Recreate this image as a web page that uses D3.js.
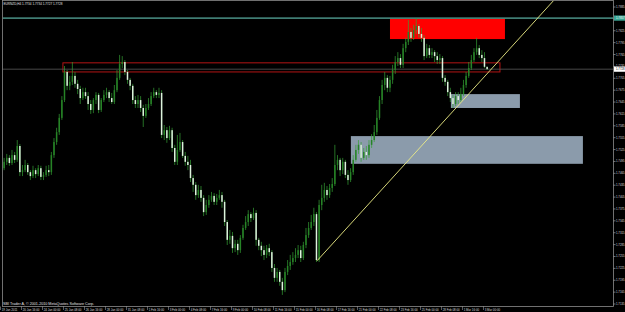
<!DOCTYPE html>
<html><head><meta charset="utf-8">
<script src="https://cdn.jsdelivr.net/npm/d3@7/dist/d3.min.js"></script>
<style>html,body{margin:0;padding:0;background:#000;overflow:hidden}svg{display:block}</style>
</head><body><svg id="c" width="625" height="312"></svg>
<script>
// ---------- data ----------
const title = "EURNZD,H4 1.7734 1.7734 1.7727 1.7728";
const copyright = "SBI Trader A, \u00a9 2001-2010 MetaQuotes Software Corp.";

const open = [1.7468,1.7478,1.7494,1.7504,1.7491,1.7511,1.7499,1.7534,1.7468,1.7473,
1.7486,1.7468,1.7458,1.7473,1.7463,1.7478,1.7456,1.7461,1.7473,1.7468,
1.7511,1.7544,1.7569,1.7605,1.7650,1.7721,1.7686,1.7696,1.7711,1.7691,
1.7678,1.7655,1.7670,1.7660,1.7640,1.7625,1.7650,1.7663,1.7625,1.7650,
1.7663,1.7670,1.7655,1.7645,1.7675,1.7706,1.7741,1.7746,1.7721,1.7701,
1.7686,1.7650,1.7640,1.7650,1.7630,1.7610,1.7630,1.7640,1.7660,1.7670,
1.7663,1.7668,1.7562,1.7574,1.7554,1.7574,1.7529,1.7494,1.7524,1.7544,
1.7509,1.7494,1.7486,1.7453,1.7436,1.7410,1.7423,1.7403,1.7367,1.7385,
1.7398,1.7408,1.7393,1.7403,1.7410,1.7393,1.7342,1.7297,1.7307,1.7276,
1.7287,1.7271,1.7302,1.7327,1.7342,1.7362,1.7352,1.7365,1.7297,1.7282,
1.7271,1.7259,1.7276,1.7266,1.7226,1.7201,1.7216,1.7191,1.7170,1.7216,
1.7231,1.7241,1.7251,1.7259,1.7271,1.7251,1.7284,1.7309,1.7327,1.7342,
1.7362,1.7246,1.7385,1.7403,1.7423,1.7410,1.7428,1.7438,1.7486,1.7499,
1.7473,1.7494,1.7461,1.7448,1.7468,1.7499,1.7524,1.7537,1.7504,1.7519,
1.7511,1.7537,1.7549,1.7569,1.7605,1.7650,1.7688,1.7706,1.7681,1.7701,
1.7726,1.7746,1.7756,1.7739,1.7781,1.7797,1.7822,1.7807,1.7827,1.7837,
1.7817,1.7807,1.7761,1.7781,1.7764,1.7771,1.7761,1.7751,1.7756,1.7706,
1.7696,1.7670,1.7655,1.7640,1.7660,1.7650,1.7665,1.7688,1.7711,1.7731,
1.7751,1.7771,1.7781,1.7764,1.7756,1.7734];

const high = [1.7489,1.7504,1.7514,1.7511,1.7524,1.7519,1.7549,1.7539,1.7486,1.7499,
1.7491,1.7473,1.7484,1.7478,1.7486,1.7484,1.7468,1.7484,1.7486,1.7519,
1.7554,1.7580,1.7615,1.7660,1.7736,1.7726,1.7711,1.7746,1.7721,1.7701,
1.7686,1.7681,1.7681,1.7670,1.7650,1.7655,1.7670,1.7668,1.7655,1.7675,
1.7681,1.7675,1.7668,1.7688,1.7726,1.7764,1.7761,1.7751,1.7726,1.7706,
1.7691,1.7660,1.7663,1.7660,1.7638,1.7640,1.7655,1.7670,1.7681,1.7675,
1.7681,1.7675,1.7587,1.7582,1.7585,1.7580,1.7537,1.7562,1.7567,1.7549,
1.7519,1.7509,1.7499,1.7461,1.7443,1.7436,1.7433,1.7410,1.7398,1.7410,
1.7418,1.7415,1.7413,1.7423,1.7418,1.7398,1.7347,1.7322,1.7317,1.7297,
1.7297,1.7309,1.7335,1.7357,1.7372,1.7367,1.7378,1.7372,1.7302,1.7292,
1.7282,1.7284,1.7287,1.7271,1.7236,1.7226,1.7221,1.7201,1.7226,1.7246,
1.7259,1.7266,1.7276,1.7284,1.7282,1.7292,1.7327,1.7342,1.7360,1.7378,
1.7367,1.7398,1.7436,1.7441,1.7433,1.7438,1.7453,1.7537,1.7511,1.7504,
1.7504,1.7499,1.7473,1.7478,1.7511,1.7537,1.7549,1.7544,1.7529,1.7534,
1.7549,1.7564,1.7587,1.7625,1.7660,1.7701,1.7721,1.7713,1.7711,1.7739,
1.7761,1.7771,1.7766,1.7792,1.7807,1.7852,1.7832,1.7840,1.7857,1.7842,
1.7832,1.7814,1.7792,1.7789,1.7781,1.7776,1.7771,1.7766,1.7761,1.7713,
1.7701,1.7681,1.7663,1.7670,1.7670,1.7681,1.7701,1.7721,1.7746,1.7764,
1.7781,1.7807,1.7789,1.7776,1.7771,1.7734];

const low = [1.7461,1.7473,1.7486,1.7484,1.7486,1.7491,1.7494,1.7458,1.7458,1.7468,
1.7461,1.7448,1.7453,1.7453,1.7458,1.7448,1.7448,1.7456,1.7458,1.7461,
1.7504,1.7537,1.7562,1.7600,1.7645,1.7675,1.7675,1.7688,1.7681,1.7665,
1.7640,1.7650,1.7653,1.7625,1.7615,1.7617,1.7640,1.7617,1.7620,1.7645,
1.7655,1.7645,1.7640,1.7640,1.7670,1.7701,1.7731,1.7713,1.7691,1.7675,
1.7640,1.7630,1.7630,1.7620,1.7582,1.7605,1.7625,1.7635,1.7655,1.7655,
1.7655,1.7554,1.7549,1.7542,1.7549,1.7519,1.7486,1.7486,1.7519,1.7504,
1.7484,1.7473,1.7443,1.7418,1.7398,1.7403,1.7393,1.7357,1.7360,1.7378,
1.7393,1.7385,1.7385,1.7398,1.7378,1.7332,1.7284,1.7287,1.7264,1.7266,
1.7259,1.7264,1.7297,1.7322,1.7332,1.7342,1.7347,1.7282,1.7271,1.7256,
1.7246,1.7251,1.7256,1.7216,1.7191,1.7191,1.7181,1.7158,1.7165,1.7208,
1.7221,1.7234,1.7241,1.7251,1.7241,1.7246,1.7276,1.7302,1.7322,1.7332,
1.7241,1.7241,1.7372,1.7393,1.7398,1.7403,1.7418,1.7433,1.7473,1.7458,
1.7463,1.7453,1.7436,1.7443,1.7461,1.7494,1.7514,1.7494,1.7499,1.7499,
1.7504,1.7529,1.7544,1.7562,1.7600,1.7640,1.7675,1.7670,1.7670,1.7691,
1.7716,1.7736,1.7731,1.7731,1.7771,1.7789,1.7797,1.7802,1.7817,1.7807,
1.7797,1.7751,1.7756,1.7756,1.7756,1.7746,1.7741,1.7741,1.7696,1.7686,
1.7660,1.7645,1.7630,1.7635,1.7640,1.7645,1.7660,1.7681,1.7706,1.7726,
1.7746,1.7764,1.7756,1.7746,1.7731,1.7727];

const close = [1.7478,1.7494,1.7504,1.7491,1.7511,1.7499,1.7534,1.7468,1.7473,1.7486,
1.7468,1.7458,1.7473,1.7463,1.7478,1.7456,1.7461,1.7473,1.7468,1.7511,
1.7544,1.7569,1.7605,1.7650,1.7721,1.7686,1.7696,1.7711,1.7691,1.7678,
1.7655,1.7670,1.7660,1.7640,1.7625,1.7650,1.7663,1.7625,1.7650,1.7663,
1.7670,1.7655,1.7645,1.7675,1.7706,1.7741,1.7746,1.7721,1.7701,1.7686,
1.7650,1.7640,1.7650,1.7630,1.7610,1.7630,1.7640,1.7660,1.7670,1.7663,
1.7668,1.7562,1.7574,1.7554,1.7574,1.7529,1.7494,1.7524,1.7544,1.7509,
1.7494,1.7486,1.7453,1.7436,1.7410,1.7423,1.7403,1.7367,1.7385,1.7398,
1.7408,1.7393,1.7403,1.7410,1.7393,1.7342,1.7297,1.7307,1.7276,1.7287,
1.7271,1.7302,1.7327,1.7342,1.7362,1.7352,1.7365,1.7297,1.7282,1.7271,
1.7259,1.7276,1.7266,1.7226,1.7201,1.7216,1.7191,1.7170,1.7216,1.7231,
1.7241,1.7251,1.7259,1.7271,1.7251,1.7284,1.7309,1.7327,1.7342,1.7362,
1.7246,1.7385,1.7403,1.7423,1.7410,1.7428,1.7438,1.7486,1.7499,1.7473,
1.7494,1.7461,1.7448,1.7468,1.7499,1.7524,1.7537,1.7504,1.7519,1.7511,
1.7537,1.7549,1.7569,1.7605,1.7650,1.7688,1.7706,1.7681,1.7701,1.7726,
1.7746,1.7756,1.7739,1.7781,1.7797,1.7822,1.7807,1.7827,1.7837,1.7817,
1.7807,1.7761,1.7781,1.7764,1.7771,1.7761,1.7751,1.7756,1.7706,1.7696,
1.7670,1.7655,1.7640,1.7660,1.7650,1.7665,1.7688,1.7711,1.7731,1.7751,
1.7771,1.7781,1.7764,1.7756,1.7734,1.7728];

const priceTicks = [1.7885,1.7855,1.7825,1.7795,1.7765,1.7735,1.7705,1.7675,1.7645,1.7615,
1.7585,1.7555,1.7525,1.7495,1.7465,1.7435,1.7405,1.7375,1.7345,1.7315,
1.7285,1.7255,1.7225,1.7195,1.7165,1.7135];

const timeLabels = ["19 Jan 2011","20 Jan 16:00","24 Jan 00:00","25 Jan 08:00","26 Jan 16:00","28 Jan 00:00",
"31 Jan 08:00","1 Feb 16:00","3 Feb 00:00","4 Feb 08:00","7 Feb 16:00","9 Feb 00:00","10 Feb 08:00",
"11 Feb 16:00","15 Feb 00:00","16 Feb 08:00","17 Feb 16:00","21 Feb 00:00","22 Feb 08:00","23 Feb 16:00",
"25 Feb 00:00","28 Feb 08:00","1 Mar 16:00","3 Mar 00:00"];
const timeLabelBars = [0,8,16,24,32,40,48,56,64,72,80,88,96,104,112,120,128,136,144,152,160,168,176,184];

// chart objects anchored in bar index / price
const resistanceLevel = 1.7857;
const bidPrice = 1.7728;
const redZone = [148.0, 191.8, 1.7855, 1.7804];
const outlineZone = [23.4, 189.9, 1.7744, 1.7721];
const grayZoneSmall = [171.2, 197.5, 1.7665, 1.7630];
const grayZoneLarge = [133.1, 221.5, 1.7559, 1.7489];
const trendStart = [120.2, 1.7244];
const trendEnd = [207.0, 1.7877];

// ---------- drawing ----------
const W = 625, H = 312;
const plotL = 2.5, plotR = 613.5, plotT = 0.5, plotB = 306.5;
const svg = d3.select("#c");
svg.append("rect").attr("width", W).attr("height", H).attr("fill", "#000");

const x = d3.scaleLinear().domain([0, open.length - 1]).range([1.5, 487.1]);
const y = d3.scaleLinear().domain([1.7135, 1.7885]).range([304, 7]);

svg.append("clipPath").attr("id", "plot").append("rect")
  .attr("x", plotL).attr("y", plotT).attr("width", plotR - plotL).attr("height", plotB - plotT);
const g = svg.append("g").attr("clip-path", "url(#plot)");

function zone(z, fill) {
  g.append("rect")
    .attr("x", x(z[0])).attr("width", x(z[1]) - x(z[0]))
    .attr("y", y(z[2])).attr("height", y(z[3]) - y(z[2]))
    .attr("fill", fill);
}
zone(redZone, "#ff0000");
zone(grayZoneSmall, "#8b9bab");
zone(grayZoneLarge, "#8b9bab");

g.append("rect")
  .attr("x", x(outlineZone[0])).attr("width", x(outlineZone[1]) - x(outlineZone[0]))
  .attr("y", y(outlineZone[2])).attr("height", y(outlineZone[3]) - y(outlineZone[2]))
  .attr("fill", "none").attr("stroke", "#b31414").attr("stroke-width", 1);

g.append("line").attr("x1", plotL).attr("x2", plotR)
  .attr("y1", y(bidPrice)).attr("y2", y(bidPrice))
  .attr("stroke", "#5a5a5a").attr("stroke-width", 0.8);
g.append("line").attr("x1", plotL).attr("x2", plotR)
  .attr("y1", y(resistanceLevel)).attr("y2", y(resistanceLevel))
  .attr("stroke", "#6fd8c8").attr("stroke-width", 1);

// candles
const idx = d3.range(open.length);
const bw = 1.5;
g.append("g").selectAll("line").data(idx).join("line")
  .attr("x1", i => x(i)).attr("x2", i => x(i))
  .attr("y1", i => y(high[i])).attr("y2", i => y(low[i]))
  .attr("stroke", "#35a035").attr("stroke-width", 0.7);
g.append("g").selectAll("rect").data(idx).join("rect")
  .attr("x", i => x(i) - bw / 2).attr("width", bw)
  .attr("y", i => y(Math.max(open[i], close[i])))
  .attr("height", i => Math.max(0.7, Math.abs(y(open[i]) - y(close[i]))))
  .attr("fill", i => close[i] >= open[i] ? "#268326" : "#dcf2dc");

// trend line (ray)
const slope = (trendEnd[1] - trendStart[1]) / (trendEnd[0] - trendStart[0]);
const rayEndBar = 260;
g.append("line")
  .attr("x1", x(trendStart[0])).attr("y1", y(trendStart[1]))
  .attr("x2", x(rayEndBar)).attr("y2", y(trendStart[1] + slope * (rayEndBar - trendStart[0])))
  .attr("stroke", "#ecec86").attr("stroke-width", 0.9);

// frame
svg.append("rect").attr("x", plotL).attr("y", plotT)
  .attr("width", plotR - plotL).attr("height", plotB - plotT)
  .attr("fill", "none").attr("stroke", "#8c8c8c").attr("stroke-width", 0.8);

const font = "Liberation Sans, Arial, sans-serif";

// price axis
const pa = svg.append("g");
pa.selectAll("line").data(priceTicks).join("line")
  .attr("x1", plotR).attr("x2", plotR + 2).attr("y1", d => y(d)).attr("y2", d => y(d))
  .attr("stroke", "#bbbbbb").attr("stroke-width", 0.6);
pa.selectAll("text").data(priceTicks).join("text")
  .attr("x", plotR + 2.5).attr("y", d => y(d) + 1)
  .attr("font-family", font).attr("font-size", 2.8).attr("fill", "#d8d8d8")
  .text(d => d.toFixed(4));

function priceTag(p, bg, fg) {
  svg.append("rect").attr("x", plotR + 0.5).attr("y", y(p) - 2.6)
    .attr("width", W - plotR).attr("height", 5.2).attr("fill", bg);
  svg.append("text").attr("x", plotR + 2.5).attr("y", y(p) + 1)
    .attr("font-family", font).attr("font-size", 2.8).attr("fill", fg).text(p.toFixed(4));
}
priceTag(resistanceLevel, "#3aa796", "#ffffff");
priceTag(bidPrice, "#ffffff", "#000000");

// time axis
const ta = svg.append("g");
ta.selectAll("line").data(timeLabelBars).join("line")
  .attr("x1", d => x(d) - 1).attr("x2", d => x(d) - 1)
  .attr("y1", plotB).attr("y2", plotB + 3.5)
  .attr("stroke", "#bbbbbb").attr("stroke-width", 0.5);
ta.selectAll("text").data(timeLabels).join("text")
  .attr("x", (d, i) => x(timeLabelBars[i]) + 0.2).attr("y", 310.6)
  .attr("font-family", font).attr("font-size", 2.9).attr("fill", "#d8d8d8")
  .text(d => d);

// texts
svg.append("text").attr("x", 3.5).attr("y", 5)
  .attr("font-family", font).attr("font-size", 3.1).attr("fill", "#e0e0e0").text(title);
svg.append("text").attr("x", 3).attr("y", 305)
  .attr("font-family", font).attr("font-size", 3.7).attr("fill", "#e0e0e0").text(copyright);
</script>
</body></html>
